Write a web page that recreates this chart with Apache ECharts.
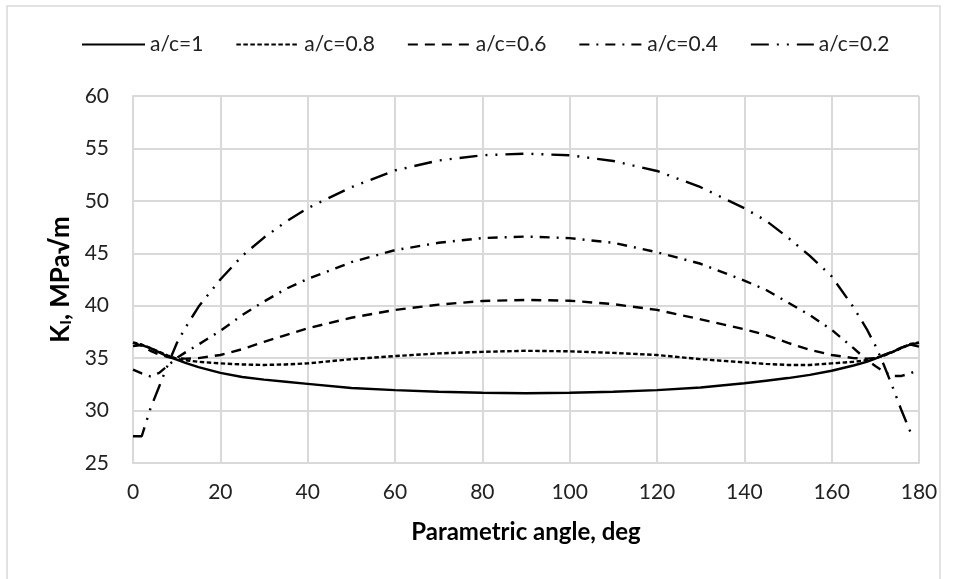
<!DOCTYPE html>
<html>
<head>
<meta charset="utf-8">
<script src="https://cdn.jsdelivr.net/npm/echarts@6/dist/echarts.min.js"></script>
<style>
html,body{margin:0;padding:0;background:#fff;}
#chart{width:955px;height:579px;}
</style>
</head>
<body>
<div id="chart"></div>
<script>
const angles = [0,2,4,6,8,10,12,15,20,25,30,35,40,50,60,70,80,90,100,110,120,130,140,145,150,155,160,165,168,170,172,174,176,178,180];
const ac10 = [36.15,36.25,35.95,35.55,35.15,34.85,34.55,34.15,33.6,33.2,32.95,32.75,32.55,32.15,31.95,31.8,31.7,31.65,31.7,31.8,31.95,32.2,32.6,32.85,33.1,33.4,33.8,34.3,34.65,34.95,35.3,35.6,36.0,36.3,36.1];
const ac08 = [36.5,36.3,35.95,35.6,35.25,34.95,34.8,34.65,34.5,34.4,34.35,34.4,34.5,34.9,35.2,35.45,35.6,35.7,35.65,35.5,35.3,34.9,34.6,34.45,34.35,34.35,34.5,34.65,34.8,35.0,35.25,35.6,35.95,36.35,36.5];
const ac06 = [36.45,36.2,35.7,35.35,35.1,35.0,34.95,35.0,35.3,35.85,36.55,37.2,37.85,38.85,39.6,40.1,40.45,40.55,40.48,40.15,39.6,38.7,37.75,37.2,36.45,35.8,35.3,35.0,34.95,35.0,35.3,35.65,36.0,36.3,36.45];
const ac04 = [33.9,33.55,33.25,33.6,34.3,35.0,35.55,36.3,37.6,39.1,40.4,41.6,42.55,44.15,45.3,46.0,46.45,46.6,46.45,46.0,45.1,44.0,42.4,41.5,40.3,39.1,37.7,35.95,34.85,34.25,33.7,33.3,33.3,33.55,33.9];
const ac02 = [27.55,27.55,30.2,32.3,34.4,36.4,37.9,39.9,42.5,44.75,46.5,48.0,49.3,51.3,52.9,53.85,54.35,54.5,54.35,53.8,52.85,51.3,49.3,48.1,46.5,44.75,42.8,39.85,37.8,36.2,34.3,32.2,30.0,28.0,null];
const seriesNames = ['a/c=1','a/c=0.8','a/c=0.6','a/c=0.4','a/c=0.2'];
const xTitle = 'Parametric angle, deg';

const FONT = 'Lato';
const dashes = ['solid',[4.5,2.5],[10,7],[10,7,2,7],[18,8,2,8,2,8]];
const valuesList = [ac10,ac08,ac06,ac04,ac02];

const chart = echarts.init(document.getElementById('chart'), null, {renderer:'canvas'});
const series = seriesNames.map((n,i)=>({
  name:n, type:'line', symbol:'none', smooth:false, connectNulls:false,
  data: angles.map((a,j)=>[a, valuesList[i][j]]),
  lineStyle:{color:'#000', width:2.4, type:dashes[i], cap:'butt'},
  itemStyle:{color:'#000'},
  animation:false
}));
chart.setOption({
  animation:false,
  backgroundColor:'#fff',
  graphic:[{type:'rect', shape:{x:7,y:6,width:933,height:600}, style:{fill:'none', stroke:'#d9d9d9', lineWidth:1.5}, silent:true}],
  legend:{
    top:34, left:81, padding:0, itemWidth:63, itemHeight:14, itemGap:32,
    itemStyle:{opacity:0},
    textStyle:{fontFamily:FONT, fontSize:21, color:'#222'},
    data:seriesNames
  },
  grid:{left:133, right:36, top:96, bottom:116},
  xAxis:{
    type:'value', min:0, max:180, interval:20,
    name:xTitle, nameLocation:'middle', nameGap:57,
    nameTextStyle:{fontFamily:FONT, fontSize:24, fontWeight:'bold', color:'#000'},
    axisLine:{show:true, lineStyle:{color:'#d9d9d9', width:2}},
    axisTick:{show:false},
    splitLine:{show:true, lineStyle:{color:'#d9d9d9', width:2}},
    axisLabel:{fontFamily:FONT, fontSize:21, color:'#222', margin:19}
  },
  yAxis:{
    type:'value', min:25, max:60, interval:5,
    name:'{b|K}{s|I}{b|, MPa√m}', nameLocation:'middle', nameGap:34,
    nameTextStyle:{
      rich:{
        b:{fontFamily:FONT, fontSize:26, fontWeight:'bold', color:'#000'},
        s:{fontFamily:FONT, fontSize:16, fontWeight:'bold', color:'#000', padding:[10,0,0,0]}
      }
    },
    axisLine:{show:true, lineStyle:{color:'#d9d9d9', width:2}},
    axisTick:{show:false},
    splitLine:{show:true, lineStyle:{color:'#d9d9d9', width:2}},
    axisLabel:{fontFamily:FONT, fontSize:21, color:'#222', margin:24}
  },
  series:series
});
</script>
</body>
</html>
